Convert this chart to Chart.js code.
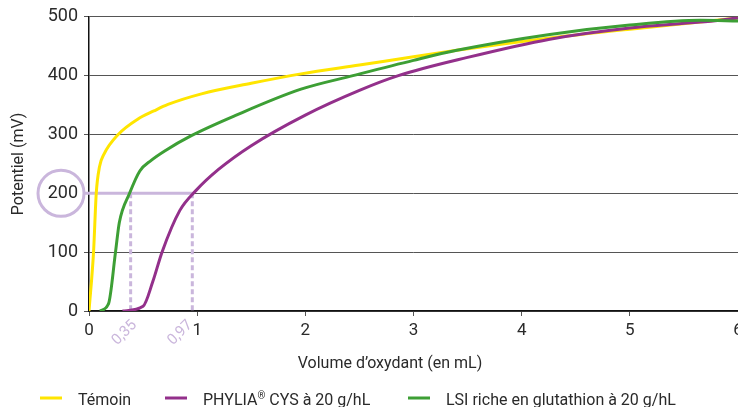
<!DOCTYPE html>
<html>
<head>
<meta charset="utf-8">
<script src="https://cdn.jsdelivr.net/npm/chart.js@4.4.1/dist/chart.umd.min.js"></script>
<style>
  html, body { margin: 0; padding: 0; background: #fff; }
  #wrap { width: 738px; height: 407px; }
</style>
</head>
<body>
<div id="wrap"><canvas id="chart" width="738" height="407"></canvas></div>
<script>
// series (x = mL of oxidant, y = mV)
const temoinX = [0, 0.042, 0.067, 0.097, 0.14, 0.27, 0.45, 0.6, 0.73, 1.04, 1.5, 1.96, 2.5, 3, 3.4, 4.26, 5, 5.65, 6];
const temoinY = [0, 100, 200, 245, 267, 300, 326, 340, 351, 369, 387, 403, 418, 432, 443, 464, 479, 491, 498];

const phyliaX = [0.31, 0.5, 0.59, 0.675, 0.84, 0.99, 1.2, 1.5, 2.0, 2.5, 2.86, 3.5, 4.26, 5, 5.65, 6];
const phyliaY = [0, 8, 50, 100, 171, 205, 241, 281, 333, 375, 400, 431, 462, 481, 491, 498];

const lsiX = [0.1, 0.18, 0.245, 0.28, 0.375, 0.47, 0.575, 0.7, 0.946, 1.35, 1.96, 2.44, 3, 3.4, 4.26, 5, 5.65, 6];
const lsiY = [0, 12, 100, 150, 200, 238, 256, 272, 298, 332, 377, 400, 426, 443, 470, 486, 494, 493];

const seriesNames = ['Témoin', 'PHYLIA® CYS à 20 g/hL', 'LSI riche en glutathion à 20 g/hL'];
const seriesColors = ['#ffe500', '#93308b', '#3d9f35'];

// reading aid : volume needed to reach 200 mV
const markerLevel = 200;
const markerX = [0.385, 0.955];
const markerLabels = ['0,35', '0,97'];

const lavender = '#cab6dc';
const textColor = '#2a2a2a';
const fontFamily = 'Roboto, "Liberation Sans", sans-serif';

function toPoints(xs, ys) {
  return xs.map((x, i) => ({ x: x, y: ys[i] }));
}

const markerPlugin = {
  id: 'markers',
  beforeDatasetsDraw(chart) {
    const ctx = chart.ctx;
    const xs = chart.scales.x;
    const ys = chart.scales.y;
    const yLev = ys.getPixelForValue(markerLevel);
    const y0 = ys.getPixelForValue(0);
    ctx.save();
    ctx.strokeStyle = lavender;
    ctx.lineWidth = 3;
    // circle round the 200 tick label
    ctx.beginPath();
    ctx.arc(61, yLev, 23, 0, Math.PI * 2);
    ctx.stroke();
    // horizontal line
    ctx.beginPath();
    ctx.moveTo(84, yLev);
    ctx.lineTo(xs.getPixelForValue(markerX[1]) + 1, yLev);
    ctx.stroke();
    // dashed verticals
    ctx.setLineDash([5, 3]);
    markerX.forEach(v => {
      const px = xs.getPixelForValue(v);
      ctx.beginPath();
      ctx.moveTo(px, yLev);
      ctx.lineTo(px, y0);
      ctx.stroke();
    });
    ctx.setLineDash([]);
    // rotated labels
    const shift = [4, -2];
    ctx.fillStyle = lavender;
    ctx.font = '15px ' + fontFamily;
    ctx.textAlign = 'right';
    ctx.textBaseline = 'middle';
    markerX.forEach((v, i) => {
      const px = xs.getPixelForValue(v);
      ctx.save();
      ctx.translate(px + shift[i], y0 + 12);
      ctx.rotate(-Math.PI / 4);
      ctx.fillText(markerLabels[i], 0, 0);
      ctx.restore();
    });
    ctx.restore();
  }
};

// x title and legend drawn by hand so they sit where the original puts them
const textPlugin = {
  id: 'bottomText',
  afterDraw(chart) {
    const ctx = chart.ctx;
    ctx.save();
    ctx.fillStyle = textColor;
    ctx.font = '16px ' + fontFamily;
    ctx.textAlign = 'center';
    ctx.textBaseline = 'middle';
    ctx.fillText('Volume d’oxydant (en mL)', 390, 364);

    const startX = [40, 165, 408];
    ctx.textBaseline = 'alphabetic';
    ctx.textAlign = 'left';
    seriesNames.forEach((name, i) => {
      ctx.fillStyle = seriesColors[i];
      ctx.fillRect(startX[i], 396.5, 22, 3);
      ctx.fillStyle = textColor;
      let tx = startX[i] + 38;
      const parts = name.split('®');
      ctx.font = '16px ' + fontFamily;
      ctx.fillText(parts[0], tx, 405);
      if (parts.length > 1) {
        tx += ctx.measureText(parts[0]).width;
        ctx.font = '10px ' + fontFamily;
        ctx.fillText('®', tx, 399);
        tx += ctx.measureText('®').width;
        ctx.font = '16px ' + fontFamily;
        ctx.fillText(parts[1], tx, 405);
      }
    });
    ctx.restore();
  }
};

const ctx = document.getElementById('chart').getContext('2d');
const chart = new Chart(ctx, {
  type: 'line',
  data: {
    datasets: [
      { label: seriesNames[0], data: toPoints(temoinX, temoinY), borderColor: seriesColors[0], order: 3 },
      { label: seriesNames[1], data: toPoints(phyliaX, phyliaY), borderColor: seriesColors[1], order: 2 },
      { label: seriesNames[2], data: toPoints(lsiX, lsiY), borderColor: seriesColors[2], order: 1 }
    ]
  },
  options: {
    responsive: false,
    animation: false,
    devicePixelRatio: 1,
    layout: { padding: { top: 15, right: 0, bottom: 36, left: 0 } },
    elements: {
      line: { borderWidth: 3, fill: false, cubicInterpolationMode: 'monotone' },
      point: { radius: 0, hoverRadius: 0 }
    },
    plugins: {
      legend: { display: false },
      tooltip: { enabled: false }
    },
    scales: {
      x: {
        type: 'linear',
        min: 0,
        max: 6,
        ticks: { stepSize: 1, color: textColor, font: { family: fontFamily, size: 17 }, padding: 5, maxRotation: 0 },
        grid: { drawOnChartArea: false, tickLength: 5, color: '#555' },
        border: { color: '#111', width: 1.5 },
        afterFit(scale) {
          scale.height = 60;
          scale.paddingRight = 0;
          scale.paddingLeft = 0;
        }
      },
      y: {
        min: 0,
        max: 500,
        ticks: { stepSize: 100, color: textColor, font: { family: fontFamily, size: 18 }, padding: 6 },
        grid: { color: '#555', tickLength: 5 },
        border: { color: '#111', width: 1.5 },
        title: { display: true, text: 'Potentiel (mV)', color: textColor, font: { family: fontFamily, size: 16 }, padding: { top: 9, bottom: 0 } },
        afterFit(scale) {
          scale.width = 89;
        }
      }
    }
  },
  plugins: [markerPlugin, textPlugin]
});
</script>
</body>
</html>
